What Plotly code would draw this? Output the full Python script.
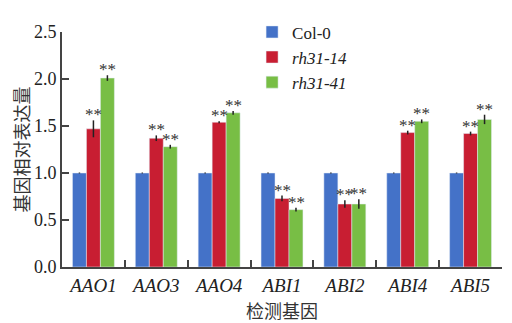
import plotly.graph_objects as go

genes = ["AAO1", "AAO3", "AAO4", "ABI1", "ABI2", "ABI4", "ABI5"]
col0 = [1.0, 1.0, 1.0, 1.0, 1.0, 1.0, 1.0]
col0_err = [0.005, 0.005, 0.005, 0.005, 0.005, 0.005, 0.005]
rh14 = [1.47, 1.37, 1.54, 0.73, 0.67, 1.43, 1.42]
rh14_err = [0.09, 0.03, 0.01, 0.03, 0.04, 0.02, 0.02]
rh41 = [2.01, 1.28, 1.64, 0.61, 0.67, 1.55, 1.57]
rh41_err = [0.03, 0.02, 0.02, 0.02, 0.05, 0.02, 0.05]
sig_label = "**"

series = [
    ("Col-0", col0, col0_err, "#4472C8"),
    ("<i>rh31-14</i>", rh14, rh14_err, "#C81E32"),
    ("<i>rh31-41</i>", rh41, rh41_err, "#78BE45"),
]

font = "Times New Roman"
cjk = "Noto Sans CJK SC"
fig = go.Figure()
for name, vals, errs, color in series:
    fig.add_trace(go.Bar(
        x=genes, y=vals, name=name, marker_color=color,
        error_y=dict(type="data", array=errs, visible=True, color="#222",
                     thickness=1.5, width=0),
    ))

ann = []
for shift, vals, errs in [(0, rh14, rh14_err), (14, rh41, rh41_err)]:
    for g, v, e in zip(genes, vals, errs):
        ann.append(dict(x=g, y=v + e, text=sig_label, showarrow=False,
                        xshift=shift, yshift=-6, yanchor="bottom",
                        font=dict(size=17, color="#333333", family=font)))

# page body has an 8px margin, so the figure is 8px smaller and offset
fig.update_layout(
    width=504, height=315,
    margin=dict(l=54, r=10, t=6, b=56),
    paper_bgcolor="white", plot_bgcolor="white",
    barmode="group", bargap=0.333, bargroupgap=0,
    font=dict(family=font, size=17, color="#222"),
    showlegend=True,
    legend=dict(x=0.432, y=1.075, xanchor="left", yanchor="top",
                font=dict(size=17, family=font, color="#222"),
                bgcolor="rgba(0,0,0,0)",
                itemwidth=30, tracegroupgap=0),
    annotations=ann,
    xaxis=dict(
        automargin=False,
        showline=True, linecolor="#444", linewidth=2,
        ticks="inside", ticklen=7, tickwidth=1.5, tickcolor="#444",
        tickson="boundaries",
        tickfont=dict(size=19, family=font),
        tickvals=genes, ticktext=[f"<i>{g}</i>" for g in genes],
        title=dict(text="检测基因", font=dict(size=18, family=cjk, color="#333"),
                   standoff=13),
    ),
    yaxis=dict(
        automargin=False,
        range=[0, 2.5], dtick=0.5, tickformat=".1f",
        showline=True, linecolor="#444", linewidth=2,
        ticks="inside", ticklen=7, tickwidth=1.5, tickcolor="#444",
        showgrid=False, zeroline=False,
        tickfont=dict(size=18, family=font),
        title=dict(text="基因相对表达量", font=dict(size=18, family=cjk, color="#333"),
                   standoff=6),
    ),
)

fig.write_html("out.html")
